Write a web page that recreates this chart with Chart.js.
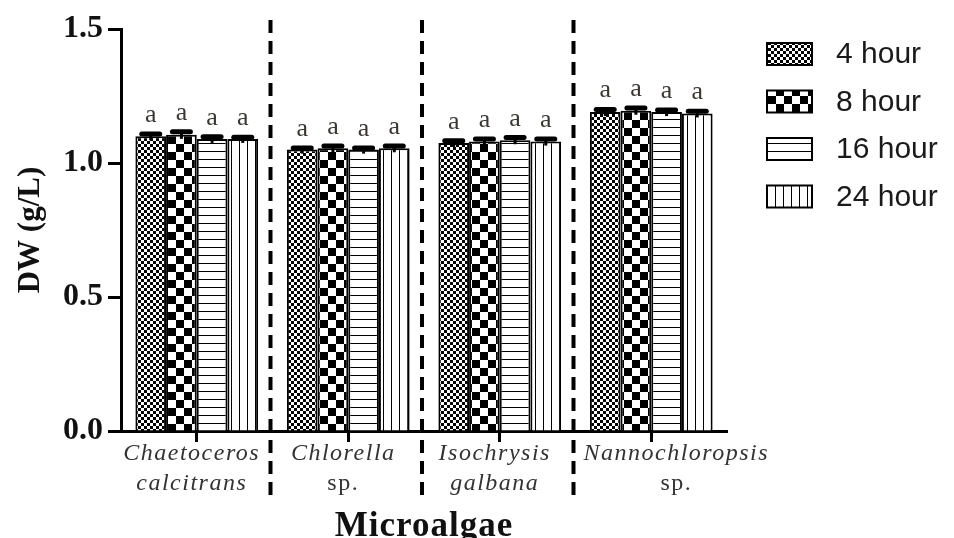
<!DOCTYPE html>
<html lang="en">
<head>
    <meta charset="UTF-8">
    <title>DW microalgae</title>
    <script src="https://cdn.jsdelivr.net/npm/chart.js"></script>
    <style>
        html, body { margin: 0; padding: 0; background: #fff; }
        #wrap { width: 954px; height: 538px; }
    </style>
</head>
<body>
    <div id="wrap">
        <canvas id="dwChart" width="954" height="538"></canvas>
    </div>

    <script>
        // categorias (linea 1 en cursiva, "sp." en normal)
        const categories = [
            ['Chaetoceros', 'calcitrans'],
            ['Chlorella', 'sp.'],
            ['Isochrysis', 'galbana'],
            ['Nannochloropsis', 'sp.']
        ];
        const seriesLabels = ['4 hour', '8 hour', '16 hour', '24 hour'];

        // valores DW (g/L)
        const dw4h = [1.100, 1.050, 1.075, 1.190];
        const dw8h = [1.105, 1.055, 1.080, 1.195];
        const dw16h = [1.090, 1.050, 1.085, 1.190];
        const dw24h = [1.090, 1.055, 1.080, 1.185];

        // desviaciones (barras de error)
        const sd4h = [0.008, 0.006, 0.008, 0.010];
        const sd8h = [0.012, 0.008, 0.010, 0.010];
        const sd16h = [0.008, 0.006, 0.010, 0.008];
        const sd24h = [0.006, 0.008, 0.010, 0.008];

        // letras de significancia
        const letters4h = ['a', 'a', 'a', 'a'];
        const letters8h = ['a', 'a', 'a', 'a'];
        const letters16h = ['a', 'a', 'a', 'a'];
        const letters24h = ['a', 'a', 'a', 'a'];

        const yTicks = [0, 0.5, 1.0, 1.5];
        const yTitle = 'DW (g/L)';
        const xTitle = 'Microalgae';

        const serif = '"Liberation Serif", "Times New Roman", serif';
        const sans = '"Liberation Sans", Arial, sans-serif';

        // patrones de relleno
        function makePattern(type) {
            const c = document.createElement('canvas');
            const g = c.getContext('2d');
            if (type === 'fine') {
                c.width = 6; c.height = 6;
                g.fillStyle = '#fff'; g.fillRect(0, 0, 6, 6);
                g.fillStyle = '#000';
                g.fillRect(0, 0, 3, 3);
                g.fillRect(3, 3, 3, 3);
            } else if (type === 'coarse') {
                c.width = 16; c.height = 16;
                g.fillStyle = '#fff'; g.fillRect(0, 0, 16, 16);
                g.fillStyle = '#000';
                g.fillRect(0, 0, 8, 8);
                g.fillRect(8, 8, 8, 8);
            } else if (type === 'hlines') {
                c.width = 8; c.height = 8;
                g.fillStyle = '#fff'; g.fillRect(0, 0, 8, 8);
                g.fillStyle = '#000';
                g.fillRect(0, 7, 8, 1.5);
            } else {
                c.width = 8; c.height = 8;
                g.fillStyle = '#fff'; g.fillRect(0, 0, 8, 8);
                g.fillStyle = '#000';
                g.fillRect(7, 0, 1.5, 8);
            }
            return g.createPattern(c, 'repeat');
        }

        const patterns = [makePattern('fine'), makePattern('coarse'), makePattern('hlines'), makePattern('vlines')];
        const sdList = [sd4h, sd8h, sd16h, sd24h];
        const letterList = [letters4h, letters8h, letters16h, letters24h];

        const extrasPlugin = {
            id: 'extras',
            afterDatasetsDraw(chart) {
                const ctx = chart.ctx;
                const yScale = chart.scales.y;
                ctx.save();
                chart.data.datasets.forEach((ds, i) => {
                    const meta = chart.getDatasetMeta(i);
                    meta.data.forEach((bar, j) => {
                        const top = yScale.getPixelForValue(ds.data[j] + sdList[i][j]);
                        ctx.strokeStyle = '#000';
                        ctx.lineWidth = 3;
                        ctx.beginPath();
                        ctx.moveTo(bar.x, bar.y + 4);
                        ctx.lineTo(bar.x, top);
                        ctx.stroke();
                        ctx.lineWidth = 5;
                        ctx.lineCap = 'round';
                        ctx.beginPath();
                        ctx.moveTo(bar.x - 9, top);
                        ctx.lineTo(bar.x + 9, top);
                        ctx.stroke();
                        ctx.lineCap = 'butt';

                        ctx.fillStyle = '#3a3630';
                        ctx.font = '26px ' + serif;
                        ctx.textAlign = 'center';
                        ctx.textBaseline = 'alphabetic';
                        ctx.fillText(letterList[i][j], bar.x, top - 12);
                    });
                });
                ctx.restore();
            },
            afterDraw(chart) {
                const ctx = chart.ctx;
                const area = chart.chartArea;
                const xScale = chart.scales.x;
                ctx.save();

                // lineas discontinuas entre grupos
                const dividers = [];
                ctx.strokeStyle = '#000';
                ctx.lineWidth = 4;
                ctx.setLineDash([13, 8]);
                for (let k = 0; k < categories.length - 1; k++) {
                    const x = (xScale.getPixelForTick(k) + xScale.getPixelForTick(k + 1)) / 2 - 2;
                    dividers.push(x);
                    ctx.beginPath();
                    ctx.moveTo(x, 20);
                    ctx.lineTo(x, 498);
                    ctx.stroke();
                }
                ctx.setLineDash([]);

                // etiquetas del eje x (se apartan de la linea discontinua si no caben)
                ctx.fillStyle = '#333';
                ctx.textAlign = 'center';
                ctx.textBaseline = 'alphabetic';
                ctx.letterSpacing = '1.5px';
                categories.forEach((lines, k) => {
                    let x = xScale.getPixelForTick(k) - 5;
                    ctx.font = 'italic 24px ' + serif;
                    const w = ctx.measureText(lines[0]).width;
                    const leftLimit = k > 0 ? dividers[k - 1] + 10 : 0;
                    if (x - w / 2 < leftLimit) x = leftLimit + w / 2;
                    lines.forEach((txt, n) => {
                        ctx.font = (txt === 'sp.' ? '' : 'italic ') + '24px ' + serif;
                        ctx.fillText(txt, x, 460 + n * 30);
                    });
                });

                // titulo eje x
                ctx.fillStyle = '#111';
                ctx.letterSpacing = '1px';
                ctx.font = 'bold 35px ' + serif;
                ctx.fillText(xTitle, (area.left + area.right) / 2, 536);

                // titulo eje y
                ctx.letterSpacing = '0px';
                ctx.font = 'bold 31px ' + serif;
                ctx.translate(39, (area.top + area.bottom) / 2);
                ctx.rotate(-Math.PI / 2);
                ctx.fillText(yTitle, 0, 0);
                ctx.setTransform(1, 0, 0, 1, 0, 0);

                // leyenda
                chart.data.datasets.forEach((ds, i) => {
                    const cy = 54 + i * 47.5;
                    ctx.fillStyle = ds.backgroundColor;
                    ctx.fillRect(767, cy - 11, 45, 22);
                    ctx.strokeStyle = '#000';
                    ctx.lineWidth = 2;
                    ctx.strokeRect(767, cy - 11, 45, 22);
                    ctx.fillStyle = '#1a1a1a';
                    ctx.font = '30px ' + sans;
                    ctx.textAlign = 'left';
                    ctx.textBaseline = 'middle';
                    ctx.fillText(ds.label, 836, cy + 1);
                });
                ctx.restore();
            }
        };

        const seriesValues = [dw4h, dw8h, dw16h, dw24h];

        new Chart(document.getElementById('dwChart'), {
            type: 'bar',
            data: {
                labels: categories.map(c => c.join(' ')),
                datasets: seriesLabels.map((label, i) => ({
                    label: label,
                    data: seriesValues[i],
                    backgroundColor: patterns[i],
                    borderColor: '#000',
                    borderWidth: 2,
                    categoryPercentage: 0.81,
                    barPercentage: 1.0
                }))
            },
            options: {
                responsive: false,
                animation: false,
                devicePixelRatio: 1,
                layout: { padding: { left: 0, top: 29, right: 227, bottom: 0 } },
                plugins: {
                    legend: { display: false },
                    tooltip: { enabled: false }
                },
                scales: {
                    x: {
                        offset: true,
                        grid: { offset: false, drawOnChartArea: false, drawTicks: true, tickLength: 11, tickWidth: 3, tickColor: '#000' },
                        border: { display: true, width: 3, color: '#000' },
                        ticks: { display: false },
                        afterFit: s => { s.height = 107; }
                    },
                    y: {
                        min: 0,
                        max: 1.5,
                        afterBuildTicks: s => { s.ticks = yTicks.map(v => ({ value: v })); },
                        grid: { drawOnChartArea: false, drawTicks: true, tickLength: 13, tickWidth: 3, tickColor: '#000' },
                        border: { display: true, width: 3, color: '#000' },
                        ticks: {
                            color: '#111',
                            padding: 5,
                            font: { family: serif, size: 32, weight: 'bold' },
                            callback: v => Number(v).toFixed(1)
                        },
                        afterFit: s => { s.width = 121; }
                    }
                }
            },
            plugins: [extrasPlugin]
        });
    </script>
</body>
</html>
